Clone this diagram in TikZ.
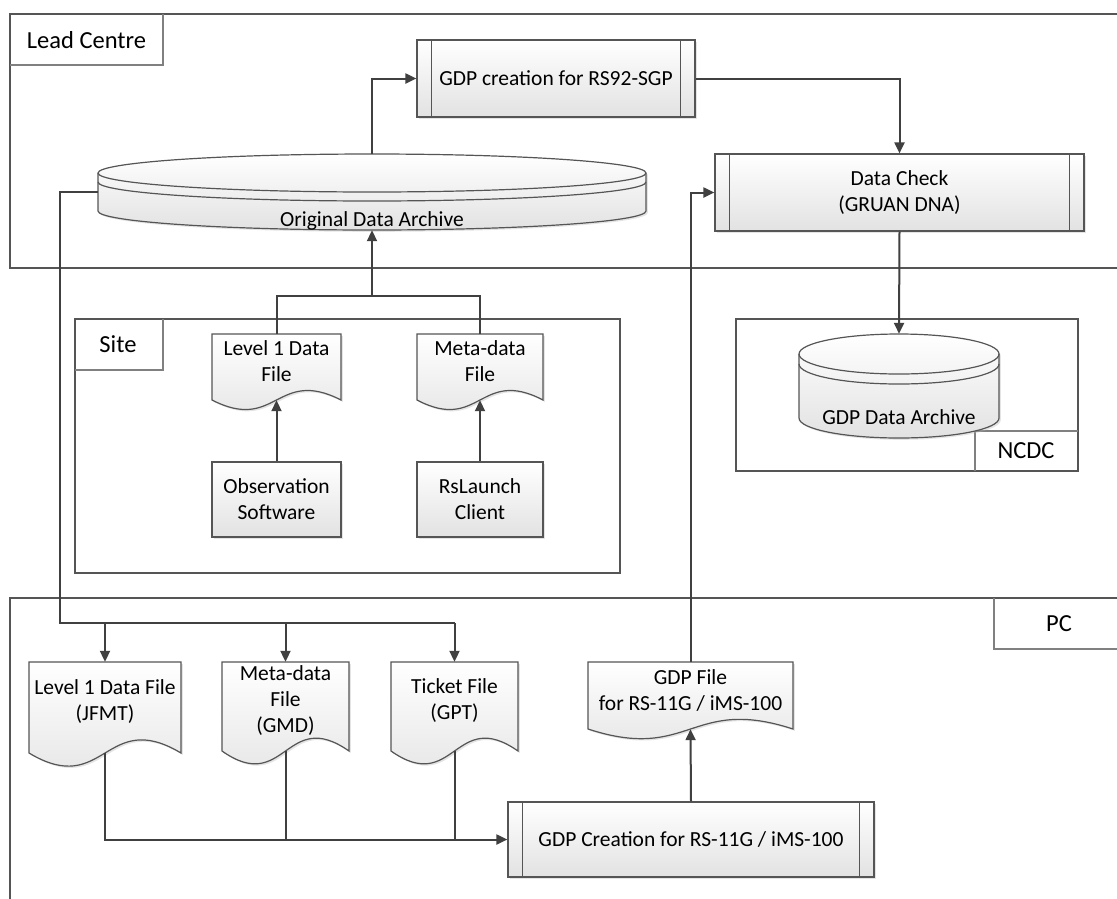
\documentclass[tikz,border=0pt]{standalone}
\usepackage{fontspec}
\setmainfont{Carlito}
\usetikzlibrary{arrows.meta,shadows,fit}
\definecolor{ln}{HTML}{404040}
\definecolor{bd}{HTML}{555555}
\definecolor{lb}{HTML}{808080}
\definecolor{fillbot}{HTML}{E2E2E2}
\tikzset{
  txt/.style={font=\fontsize{21.5}{26}\selectfont, align=center, inner sep=0pt, text=black},
  lbl/.style={font=\fontsize{24.5}{29}\selectfont, inner sep=0pt, text=black},
  frame/.style={draw=bd, line width=2pt},
  lblbox/.style={draw=lb, line width=1.2pt},
  shp/.style={draw=bd, line width=1.2pt, top color=white, bottom color=fillbot,
    drop shadow={shadow xshift=1.8pt, shadow yshift=-1.8pt, fill=black!30, opacity=0.35}},
  proc/.style={shp, rectangle, inner sep=0pt, font=\fontsize{21.5}{26}\selectfont, align=center},
  innerln/.style={draw=bd, line width=1.2pt},
  area/.style={inner sep=0pt, draw=none},
  conn/.style={draw=ln, line width=2pt},
  connthick/.style={draw=ln, line width=2.8pt},
  arr/.style={conn, -{Triangle[length=11pt,width=10pt]}},
}
% document shape: name, x1, y1, x2, ybottom, text
\newcommand\docnode[6]{%
  \path[shp] (#2,#3) -- (#4,#3) -- (#4,#5)
    .. controls ({(#2+#4)/2},{#5-0.5*(#5-#3)}) and ({(#2+#4)/2},{#5+0.5*(#5-#3)}) .. (#2,#5) -- cycle;
  \node[area, fit={(#2,#3) (#4,#5)}] (#1) {};
  \node[txt] (#1t) at ([yshift=5.5pt]#1.center) {#6};
}
% cylinder: name, x1, x2, cy (top ellipse centre), ry, by (bottom ellipse centre), band offset
\newcommand\cylnode[7]{%
  \path[shp] (#2,#4) -- (#2,#6) arc[start angle=180, end angle=360, x radius={(#3-#2)/2*1pt}, y radius={#5*1pt}]
    -- (#3,#4) arc[start angle=0, end angle=180, x radius={(#3-#2)/2*1pt}, y radius={#5*1pt}] -- cycle;
  \draw[innerln] (#2,#4) arc[start angle=180, end angle=360, x radius={(#3-#2)/2*1pt}, y radius={#5*1pt}];
  \draw[innerln] (#2,{#4+#7}) arc[start angle=180, end angle=360, x radius={(#3-#2)/2*1pt}, y radius={#5*1pt}];
  \node[area, fit={(#2,{#4-#5}) (#3,{#6+#5})}] (#1) {};
}
\newcommand\innerlines[1]{%
  \draw[innerln] ([xshift=15pt]#1.north west) -- ([xshift=15pt]#1.south west);
  \draw[innerln] ([xshift=-15pt]#1.north east) -- ([xshift=-15pt]#1.south east);
}
\begin{document}
\begin{tikzpicture}[x=1pt,y=-1pt]
\useasboundingbox (0,0) rectangle (1117,898);
\fill[white] (0,0) rectangle (1117,898);

% ---------- frames ----------
\draw[frame] (1125,14) -- (10,14) -- (10,268) -- (1125,268);
\draw[lblbox] (163,14) -- (163,65) -- (10,65);
\node[lbl] (leadlbl) at (86.5,40) {Lead Centre};

\draw[frame] (75,319) rectangle (620,573);
\draw[lblbox] (163,319) -- (163,370) -- (75,370);
\node[lbl] (sitelbl) at (118,344) {Site};

\draw[frame] (736,319) rectangle (1078,471);
\draw[lblbox] (975,471) -- (975,431) -- (1078,431);
\node[lbl] (ncdclbl) at (1026,451) {NCDC};

\draw[frame] (1125,598) -- (10,598) -- (10,905);
\draw[lblbox] (1125,649) -- (994,649) -- (994,598);
\node[lbl] (pclbl) at (1059,624) {PC};

% ---------- Lead Centre ----------
\cylnode{oda}{98}{646}{173}{19}{211}{9}
\node[txt] (odat) at (372,221) {Original Data Archive};

\node[proc, minimum width=278pt, minimum height=77pt] (rs) at (556,78.5) {GDP creation for RS92-SGP};
\innerlines{rs}

\node[proc, minimum width=369pt, minimum height=77pt] (dc) at (899.5,192.5) {Data Check\\(GRUAN DNA)};
\innerlines{dc}

% ---------- NCDC ----------
\cylnode{gda}{799}{999}{354}{20}{418}{10}
\node[txt] (gdat) at (899,417) {GDP Data Archive};

% ---------- Site ----------
\docnode{l1s}{212}{334}{341}{400}{Level 1 Data\\File}
\docnode{mds}{417}{334}{543}{400}{Meta-data\\File}
\node[proc, minimum width=129pt, minimum height=75pt] (obs) at (276.5,499.5) {Observation\\Software};
\node[proc, minimum width=126pt, minimum height=75pt] (rsl) at (480,499.5) {RsLaunch\\Client};

% ---------- PC ----------
\docnode{jfmt}{29}{662}{181}{753}{Level 1 Data File\\(JFMT)}
\docnode{gmd}{222}{662}{349}{751}{Meta-data\\File\\(GMD)}
\docnode{gpt}{391}{662}{518}{751}{Ticket File\\(GPT)}
\docnode{gf}{588}{662}{793}{729}{GDP File\\for RS-11G / iMS-100}
\node[proc, minimum width=366pt, minimum height=75pt] (gc) at (691,839.5) {GDP Creation for RS-11G / iMS-100};
\innerlines{gc}

% ---------- connectors ----------
\path (oda.south) ++(0,66) coordinate (sj);
\draw[conn] (l1s.north) |- (sj) -| (mds.north);
\draw[arr] (sj) -- (oda.south);
\draw[arr] (obs.north) -- (l1s.south);
\draw[arr] (rsl.north) -- (mds.south);

\draw[arr] (oda.north) |- (rs.west);
\draw[arr] (rs.east) -| (dc.north);
\draw[arr] (dc.south) -- (gda.north);

\coordinate (sp) at (60,623);
\draw[connthick] (oda.west) -| (sp) -- (gpt.north |- sp);
\draw[arr] (jfmt.north |- sp) -- (jfmt.north);
\draw[arr] (gmd.north |- sp) -- (gmd.north);
\draw[arr] (gpt.north |- sp) -- (gpt.north);

\draw[arr] (jfmt.south) |- (gc.west);
\draw[conn] (gmd.south) -- (gmd.south |- gc.west);
\draw[conn] (gpt.south) -- (gpt.south |- gc.west);

\draw[arr] (gc.north) -- (gf.south);
\draw[arr] (gf.north) |- (dc.west);
\end{tikzpicture}
\end{document}
